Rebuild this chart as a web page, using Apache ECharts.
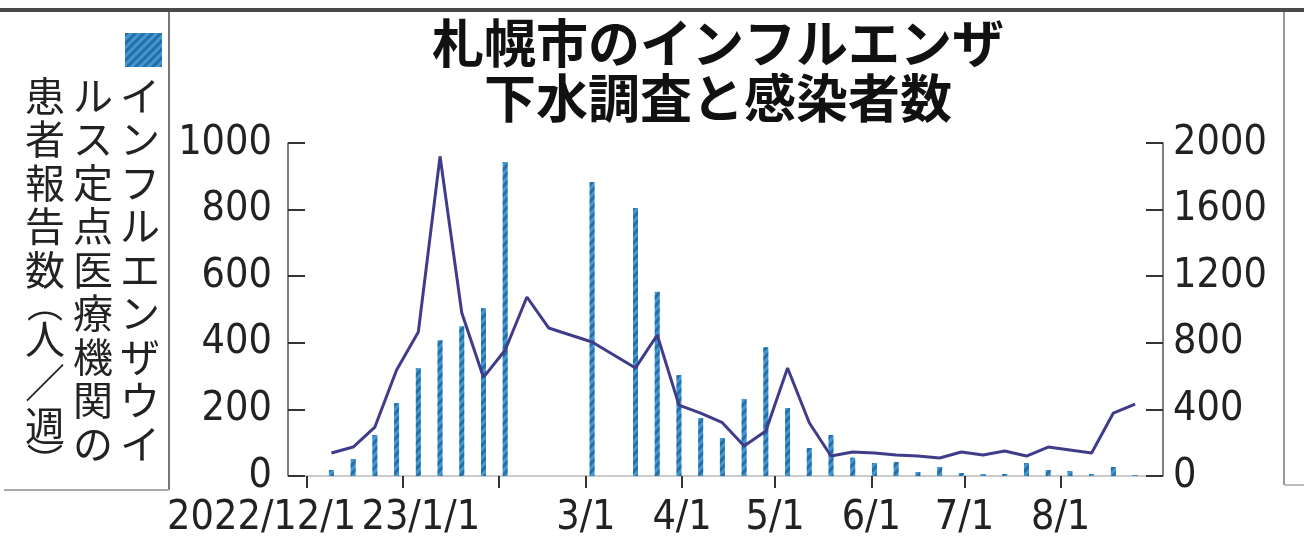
<!DOCTYPE html>
<html>
<head>
<meta charset="utf-8">
<script src="https://cdn.jsdelivr.net/npm/echarts@6/dist/echarts.min.js"></script>
<style>
  html, body { margin: 0; padding: 0; background: #fff; }
  #chart { width: 1304px; height: 539px; }
</style>
</head>
<body>
<div id="chart"></div>
<script>
// 週ごとのデータ (金曜日基準)
const weeks = [
    '2022-12-09', '2022-12-16', '2022-12-23', '2022-12-30', '2023-01-06', '2023-01-13',
    '2023-01-20', '2023-01-27', '2023-02-03', '2023-02-10', '2023-02-17', '2023-02-24',
    '2023-03-03', '2023-03-10', '2023-03-17', '2023-03-24', '2023-03-31', '2023-04-07',
    '2023-04-14', '2023-04-21', '2023-04-28', '2023-05-05', '2023-05-12', '2023-05-19',
    '2023-05-26', '2023-06-02', '2023-06-09', '2023-06-16', '2023-06-23', '2023-06-30',
    '2023-07-07', '2023-07-14', '2023-07-21', '2023-07-28', '2023-08-04', '2023-08-11',
    '2023-08-18', '2023-08-25',
]
// 定点医療機関の患者報告数 (人/週) - 左軸
const patients = [
    18, 51, 123, 219, 324, 408, 450, 504, 943, null, null, null,
    883, null, 805, 553, 303, 174, 114, 231, 387, 204, 84, 123,
    55, 39, 42, 12, 27, 9, 6, 6, 39, 18, 15, 6, 27, 3,
]
// 下水調査 - 右軸
const sewage = [
    138, 174, 294, 637, 865, 1920, 980, 592, 757, 1075, 889, 847,
    805, 727, 649, 847, 426, 378, 320, 180, 270, 649, 320, 120,
    144, 138, 126, 120, 108, 144, 126, 150, 120, 174, 156, 138, 378, 432,
]
const xRange = ['2022-11-25', '2023-09-03']
const tickDates = ['2022-12-01', '2023-01-01', '2023-02-01', '2023-03-01', '2023-04-01', '2023-05-01', '2023-06-01', '2023-07-01', '2023-08-01']
const tickLabels = ['2022/12/1', '23/1/1', '', '3/1', '4/1', '5/1', '6/1', '7/1', '8/1']
const leftTicks = [0, 200, 400, 600, 800, 1000]
const rightTicks = [0, 400, 800, 1200, 1600, 2000]
const titleLines = ['札幌市のインフルエンザ', '下水調査と感染者数']
const yNameCols = ['インフルエンザウイ', 'ルス定点医療機関の', '患者報告数（人／週）']

const numFont = '"DejaVu Sans Condensed", "Liberation Sans Narrow", "Liberation Sans", sans-serif'
const jpFont = '"Noto Sans CJK JP", sans-serif'
const numSize = 41

const toTime = (s) => echarts.number.parseDate(s).getTime()
const tickTimes = tickDates.map(toTime)
const labelTimes = tickTimes.filter((t, i) => tickLabels[i] !== '')

var myChart = echarts.init(document.getElementById('chart'))

// 縦書きの凡例テキスト
function verticalColumn(text, x) {
    var lines = []
    for (const ch of text) {
        if (ch === '（') lines.push('{p|︵}')
        else if (ch === '）') lines.push('{p|︶}')
        else lines.push('{c|' + ch + '}')
    }
    return {
        type: 'text',
        x: x,
        y: 74,
        style: {
            text: lines.join('\n'),
            align: 'center',
            fill: '#222',
            rich: {
                c: { fontFamily: jpFont, fontSize: 40, lineHeight: 43.5, fill: '#222' },
                p: { fontFamily: jpFont, fontSize: 36, lineHeight: 26, fill: '#222' },
            },
        },
    }
}

var option = {
    animation: false,
    backgroundColor: '#fff',
    grid: { left: 288, right: 141, top: 143, bottom: 63 },
    legend: {
        data: ['患者報告数'],
        left: 120,
        top: 28,
        icon: 'rect',
        itemWidth: 37,
        itemHeight: 34,
        formatter: function () { return '' },
        selectedMode: false,
    },
    xAxis: {
        type: 'value',
        min: toTime(xRange[0]),
        max: toTime(xRange[1]),
        axisLine: { show: true, lineStyle: { color: '#bbb', width: 1.5 } },
        axisTick: { show: true, inside: false, length: 12, customValues: tickTimes, lineStyle: { color: '#333', width: 2 } },
        axisLabel: {
            customValues: labelTimes,
            hideOverlap: false,
            showMinLabel: true,
            margin: 22,
            color: '#222',
            fontFamily: numFont,
            fontSize: numSize,
            formatter: function (val) {
                var i = tickTimes.indexOf(val)
                var txt = i >= 0 ? tickLabels[i] : ''
                if (i === 0) return '{a|' + txt + '}'
                if (i === 1) return '{b|' + txt + '}'
                return txt
            },
            rich: {
                a: { fontFamily: numFont, fontSize: numSize, color: '#222', padding: [0, 90, 0, 0] },
                b: { fontFamily: numFont, fontSize: numSize, color: '#222', padding: [0, 0, 0, 36] },
            },
        },
        splitLine: { show: false },
    },
    yAxis: [
        {
            type: 'value',
            position: 'left',
            min: leftTicks[0],
            max: leftTicks[leftTicks.length - 1],
            interval: 200,
            axisLine: { show: true, lineStyle: { color: '#555', width: 1.5 } },
            axisTick: { show: true, inside: true, length: 17, lineStyle: { color: '#333', width: 2 } },
            axisLabel: { margin: 16, color: '#222', fontFamily: numFont, fontSize: numSize, formatter: (v) => String(v) },
            splitLine: { show: false },
        },
        {
            type: 'value',
            position: 'right',
            min: rightTicks[0],
            max: rightTicks[rightTicks.length - 1],
            interval: 400,
            axisLine: { show: true, lineStyle: { color: '#555', width: 1.5 } },
            axisTick: { show: true, inside: true, length: 17, lineStyle: { color: '#333', width: 2 } },
            axisLabel: { margin: 10, color: '#222', fontFamily: numFont, fontSize: numSize, formatter: (v) => String(v) },
            splitLine: { show: false },
        },
    ],
    series: [
        {
            name: '患者報告数',
            type: 'bar',
            yAxisIndex: 0,
            barWidth: 5,
            data: weeks.map((d, i) => [toTime(d), patients[i]]),
            itemStyle: {
                color: '#3f98d4',
                decal: {
                    symbol: 'rect',
                    dashArrayX: [1, 0],
                    dashArrayY: [3, 3],
                    rotation: -Math.PI / 4,
                    color: 'rgba(20, 75, 130, 0.55)',
                },
            },
        },
        {
            name: '下水調査',
            type: 'line',
            yAxisIndex: 1,
            showSymbol: false,
            symbol: 'none',
            data: weeks.map((d, i) => [toTime(d), sewage[i]]),
            lineStyle: { color: '#403c8a', width: 3 },
            z: 3,
        },
    ],
    graphic: [
        // 枠線
        { type: 'rect', shape: { x: 0, y: 8, width: 1304, height: 4 }, style: { fill: '#4a4a4a' } },
        { type: 'line', shape: { x1: 169, y1: 12, x2: 169, y2: 490 }, style: { stroke: '#777', lineWidth: 2 } },
        { type: 'line', shape: { x1: 4, y1: 490, x2: 169, y2: 490 }, style: { stroke: '#aaa', lineWidth: 2 } },
        { type: 'line', shape: { x1: 1284, y1: 12, x2: 1284, y2: 485 }, style: { stroke: '#999', lineWidth: 2 } },
        { type: 'line', shape: { x1: 1284, y1: 485, x2: 1304, y2: 485 }, style: { stroke: '#bbb', lineWidth: 2 } },
        // タイトル
        {
            type: 'text',
            x: 718,
            y: 16,
            style: {
                text: titleLines.join('\n'),
                align: 'center',
                fill: '#111',
                font: 'bold 52px ' + jpFont,
                lineHeight: 55,
            },
        },
        verticalColumn(yNameCols[0], 140),
        verticalColumn(yNameCols[1], 93),
        verticalColumn(yNameCols[2], 45),
    ],
}
myChart.setOption(option)
</script>
</body>
</html>
